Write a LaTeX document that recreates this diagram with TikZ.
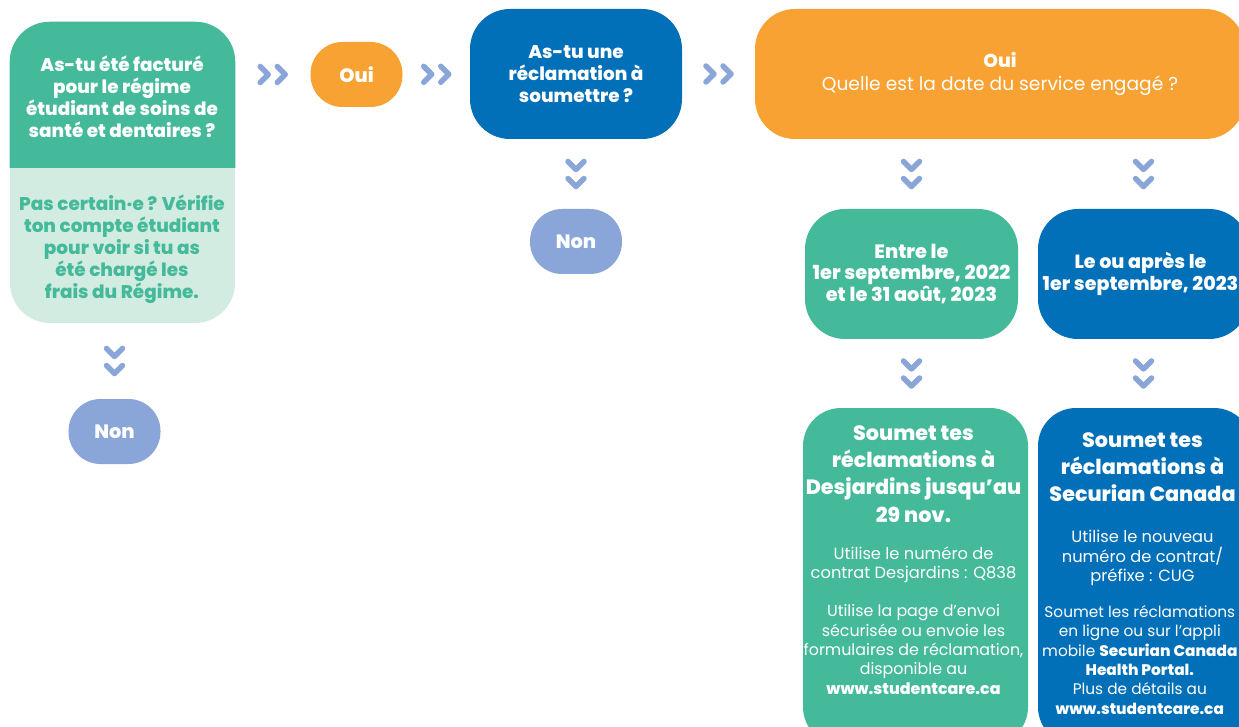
\documentclass[tikz,border=0pt]{standalone}
\usepackage{fontspec}
\setmainfont{Poppins}[BoldFont={Poppins ExtraBold}]
\usetikzlibrary{positioning,decorations.markings}
\newcommand{\px}{0.75pt}
\definecolor{vert}{HTML}{45BA9A}
\definecolor{vertpale}{HTML}{D2ECE2}
\definecolor{bleu}{HTML}{0270B8}
\definecolor{orangeq}{HTML}{F8A233}
\definecolor{lavande}{HTML}{8AA6D8}

\begin{document}
\begin{tikzpicture}[x=\px, y=-\px,
    boite/.style={rectangle, rounded corners=40*\px, inner sep=0pt, text=white, align=center},
    pilule/.style={boite, rounded corners=32*\px, minimum width=92*\px, minimum height=65*\px, font=\bfseries\fontsize{14.5}{16.5}\selectfont},
    texte/.style={inner sep=0pt, align=center, text=white},
    question/.style={texte, font=\bfseries\fontsize{13.8}{16.5}\selectfont},
    titre/.style={texte, font=\bfseries\fontsize{15.5}{20.5}\selectfont},
    corps/.style={texte, font=\fontsize{12.2}{14.5}\selectfont},
    petit/.style={texte, font=\fontsize{11.9}{14.5}\selectfont},
    chevron/.style={draw=lavande, line width=5.5*\px, line cap=round, line join=round},
    chevrons/.style={postaction=decorate, decoration={markings, mark=at position 0.5 with {
        \draw[chevron] (-9.4pt,6pt) -- (-3.4pt,0pt) -- (-9.4pt,-6pt);
        \draw[chevron] (3.4pt,6pt) -- (9.4pt,0pt) -- (3.4pt,-6pt);}}}]
    \useasboundingbox (0,0) rectangle (1239,727);

    % Colonne de gauche
    \node[boite, fill=vertpale, minimum width=225*\px, minimum height=301*\px] (regime) at (122.5,172.5) {};
    \begin{scope}
      \clip (regime.north west) rectangle (regime.east |- 0,168);
      \fill[vert, rounded corners=40*\px] (regime.south west) rectangle (regime.north east);
    \end{scope}
    \node[question] (facture) at (122,97) {As-tu été facturé\\pour le régime\\étudiant de soins de\\santé et dentaires ?};
    \node[question, text=vert] (verifie) at (122,249) {Pas certain·e ? Vérifie\\ton compte étudiant\\pour voir si tu as\\été chargé les\\frais du Régime.};
    \node[pilule, fill=lavande] (non1) at (114.5,431.5) {Non};

    % Deuxieme question
    \node[pilule, fill=orangeq] (oui1) at (356.5,74.5) {Oui};
    \node[boite, fill=bleu, minimum width=212*\px, minimum height=130*\px, font=\bfseries\fontsize{13.8}{16.5}\selectfont] (soumettre) at (576,74) {As-tu une\\réclamation à\\soumettre ?};
    \node[pilule, fill=lavande] (non2) at (576,241.5) {Non};

    % Date du service
    \node[boite, fill=orangeq, minimum width=490*\px, minimum height=130*\px, font=\fontsize{14}{17}\selectfont] (date) at (1000,74) {\textbf{Oui}\\Quelle est la date du service engagé ?};
    \node[boite, fill=vert, minimum width=213*\px, minimum height=130*\px, font=\bfseries\fontsize{14.5}{16.3}\selectfont] (entre) at (911.5,274) {Entre le\\1er septembre, 2022\\et le 31 août, 2023};
    \node[boite, fill=bleu, minimum width=211*\px, minimum height=130*\px] (apres) at (1143.5,274) {};
    \node[question, font=\bfseries\fontsize{14.3}{16.3}\selectfont] (apresdate) at (1140.5,274) {Le ou après le\\1er septembre, 2023};

    % Ou soumettre
    \node[boite, fill=vert, rounded corners=38*\px, minimum width=225*\px, minimum height=337*\px] (desj) at (915.5,576.5) {};
    \node[boite, fill=bleu, rounded corners=38*\px, minimum width=214*\px, minimum height=337*\px] (securian) at (1145,576.5) {};
    \node[titre, anchor=north] (desjtitre) at (913.5,425) {Soumet tes\\réclamations à\\Desjardins jusqu’au\\29 nov.};
    \node[corps, below=18pt of desjtitre] (desjnum) {Utilise le numéro de\\contrat Desjardins : Q838};
    \node[petit, below=16pt of desjnum] (desjenvoi) {Utilise la page d’envoi\\sécurisée ou envoie les\\formulaires de réclamation,\\disponible au\\\textbf{www.studentcare.ca}};
    \node[titre, anchor=north] (sectitre) at (1142.5,432) {Soumet tes\\réclamations à\\Securian Canada};
    \node[corps, below=21pt of sectitre] (secnum) {Utilise le nouveau\\numéro de contrat/\\préfixe : CUG};
    \node[petit, font=\fontsize{11.5}{14.5}\selectfont, below=14.5pt of secnum, xshift=-2pt] (secappli) {Soumet les réclamations\\en ligne ou sur l’appli\\mobile \textbf{Securian Canada}\\\textbf{Health Portal.}\\Plus de détails au\\\textbf{www.studentcare.ca}};

    % Chevrons
    \path[chevrons] (regime.east |- oui1) -- (oui1);
    \path[chevrons] (oui1) -- (soumettre);
    \path[chevrons] (soumettre) -- (date);
    \path[chevrons] (soumettre) -- (non2);
    \path[chevrons] (regime.south -| non1) -- (non1);
    \path[chevrons] (date.south -| entre) -- (entre);
    \path[chevrons] (date.south -| apres) -- (apres);
    \path[chevrons] (entre) -- (entre |- desj.north);
    \path[chevrons] (apres) -- (apres |- securian.north);
\end{tikzpicture}
\end{document}
